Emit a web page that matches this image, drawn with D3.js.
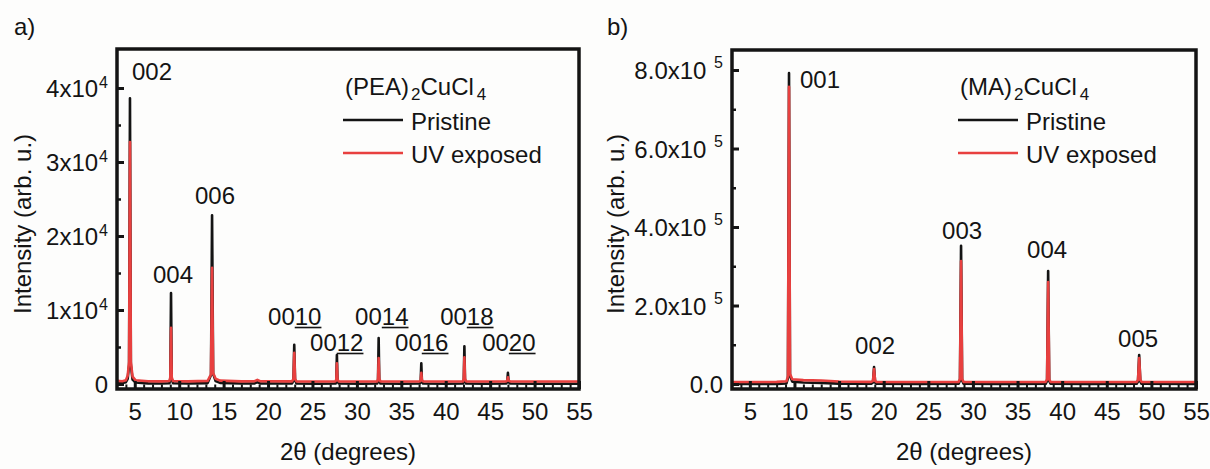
<!DOCTYPE html>
<html>
<head>
<meta charset="utf-8">
<script src="https://cdn.jsdelivr.net/npm/d3@7/dist/d3.min.js"></script>
<style>
  html, body { margin: 0; padding: 0; background: #fdfdfc; }
  svg { display: block; }
  text { font-family: "Liberation Sans", Arial, sans-serif; fill: #141414; }
</style>
</head>
<body>
<svg id="chart" width="1210" height="469"></svg>
<script>
// ---------- data: (PEA)2CuCl4 ----------
// [2θ (deg), intensity (counts)]
const pristinePEA = [
  [3.0, 150], [3.6, 120], [4.0, 250], [4.2, 700], [4.36, 2600], [4.46, 38600], [4.56, 2600], [4.75, 600], [5.1, 200],
  [6.5, 80], [8.0, 60], [8.9, 100], [9.0, 700], [9.08, 12300], [9.16, 700], [9.3, 100],
  [11.0, 60], [13.2, 120], [13.58, 1200], [13.7, 22800], [13.82, 1400], [14.1, 400], [14.6, 150],
  [17.0, 60], [18.5, 80], [18.8, 250], [19.1, 80], [22.7, 60], [22.86, 500], [22.95, 5300], [23.04, 500], [23.2, 60],
  [25.5, 40], [27.6, 60], [27.68, 400], [27.75, 3900], [27.82, 400], [27.95, 60],
  [30.5, 40], [32.3, 60], [32.38, 500], [32.45, 6200], [32.52, 500], [32.65, 60],
  [35.0, 40], [37.1, 60], [37.18, 300], [37.25, 2800], [37.32, 300], [37.45, 60],
  [40.0, 40], [41.95, 60], [42.03, 500], [42.1, 5100], [42.17, 500], [42.3, 60],
  [44.5, 40], [46.8, 60], [46.92, 250], [47.0, 1500], [47.08, 250], [47.25, 60],
  [50.0, 40], [55.0, 40]
];
const uvPEA = [
  [3.0, 420], [3.6, 380], [4.0, 500], [4.2, 1100], [4.36, 3000], [4.46, 32700], [4.56, 3000], [4.75, 1000], [5.1, 500],
  [6.5, 380], [8.0, 360], [8.9, 400], [9.0, 900], [9.08, 7600], [9.16, 900], [9.3, 400],
  [11.0, 360], [13.2, 420], [13.58, 1300], [13.7, 15700], [13.82, 1500], [14.1, 700], [14.6, 450],
  [17.0, 360], [18.5, 380], [18.8, 560], [19.1, 380], [22.7, 360], [22.86, 700], [22.95, 4200], [23.04, 700], [23.2, 360],
  [25.5, 340], [27.6, 360], [27.68, 600], [27.75, 2800], [27.82, 600], [27.95, 360],
  [30.5, 340], [32.3, 360], [32.38, 700], [32.45, 3500], [32.52, 700], [32.65, 360],
  [35.0, 340], [37.1, 360], [37.18, 500], [37.25, 1500], [37.32, 500], [37.45, 360],
  [40.0, 340], [41.95, 360], [42.03, 700], [42.1, 3600], [42.17, 700], [42.3, 360],
  [44.5, 340], [46.8, 360], [46.92, 450], [47.0, 900], [47.08, 450], [47.25, 360],
  [50.0, 340], [55.0, 340]
];
const peakLabelsPEA = ["002", "004", "006", "0010", "0012", "0014", "0016", "0018", "0020"];
// label anchor in data units: [2θ, intensity]
const peakLabelAnchorPEA = [
  [4.69, 41080], [7.05, 13650], [11.78, 24320], [20.0, 7970], [24.73, 4460],
  [29.8, 7970], [34.3, 4460], [39.37, 7970], [44.1, 4460]
];

// ---------- data: (MA)2CuCl4 ----------
const pristineMA = [
  [3.0, 0], [5.0, 0], [8.0, 300], [9.1, 1500], [9.27, 15000], [9.39, 792000], [9.5, 22000], [9.75, 6000],
  [11.0, 4000], [13.0, 3000], [15.0, 1000], [18.6, 500], [18.8, 4000], [18.92, 43000], [19.04, 4000], [19.2, 500],
  [24.0, 0], [28.4, 500], [28.55, 9000], [28.67, 352000], [28.79, 9000], [28.95, 500],
  [33.0, 0], [38.15, 500], [38.31, 8000], [38.43, 288000], [38.55, 8000], [38.7, 500],
  [43.0, 0], [48.35, 500], [48.5, 6000], [48.63, 74000], [48.76, 6000], [48.9, 500], [55.0, 0]
];
const uvMA = [
  [3.0, 5000], [5.0, 5000], [8.0, 5500], [9.1, 7000], [9.27, 20000], [9.39, 757000], [9.5, 26000], [9.75, 12000],
  [11.0, 10000], [13.0, 9000], [15.0, 6500], [18.6, 5500], [18.8, 8000], [18.92, 38000], [19.04, 8000], [19.2, 5500],
  [24.0, 5000], [28.4, 5500], [28.55, 13000], [28.67, 313000], [28.79, 13000], [28.95, 5500],
  [33.0, 5000], [38.15, 5500], [38.31, 12000], [38.43, 260000], [38.55, 12000], [38.7, 5500],
  [43.0, 5000], [48.35, 5500], [48.5, 10000], [48.63, 66000], [48.76, 10000], [48.9, 5500], [55.0, 5000]
];
const peakLabelsMA = ["001", "002", "003", "004", "005"];
const peakLabelAnchorMA = [
  [10.62, 754000], [16.79, 76400], [26.54, 369400], [36.07, 321000], [46.27, 94300]
];

// ---------- axes ----------
const xTicks = [5, 10, 15, 20, 25, 30, 35, 40, 45, 50, 55];
const xMinorTicks = d3.range(4, 55, 1).filter(v => v % 5 !== 0);
const yTicksPEA = [0, 10000, 20000, 30000, 40000];
const yTickLabelsPEA = ["0", "1x10^4", "2x10^4", "3x10^4", "4x10^4"];
const yMinorPEA = [5000, 15000, 25000, 35000];
const yTicksMA = [0, 200000, 400000, 600000, 800000];
const yTickLabelsMA = ["0.0", "2.0x10 ^5", "4.0x10 ^5", "6.0x10 ^5", "8.0x10 ^5"];
const yMinorMA = [100000, 300000, 500000, 700000];

const seriesNames = ["Pristine", "UV exposed"];
const colors = ["#141414", "#e8403f"];

const svg = d3.select("#chart");

function panel(opt) {
  const x = d3.scaleLinear().domain([3, 55]).range([opt.left, opt.right]);
  const y = d3.scaleLinear().domain(opt.yDomain).range([opt.bottom, opt.top]);
  const g = svg.append("g");

  const clipId = "clip-" + opt.id;
  svg.append("clipPath").attr("id", clipId)
    .append("rect").attr("x", opt.left).attr("y", opt.top)
    .attr("width", opt.right - opt.left).attr("height", opt.bottom - opt.top);

  const line = d3.line().x(d => x(d[0])).y(d => y(d[1]));
  [opt.pristine, opt.uv].forEach((s, i) => {
    g.append("path").datum(s)
      .attr("clip-path", `url(#${clipId})`)
      .attr("d", line)
      .attr("fill", "none")
      .attr("stroke", colors[i])
      .attr("stroke-width", 2.6)
      .attr("stroke-linejoin", "round")
      .attr("stroke-linecap", "round");
  });

  // x axis (ticks inside)
  const xa = g.append("g").attr("transform", `translate(0,${opt.bottom})`)
    .call(d3.axisBottom(x).tickValues(xTicks).tickSize(-8).tickPadding(14).tickFormat(d3.format("d")));
  xa.select(".domain").remove();
  xa.selectAll("line").attr("stroke", "#141414").attr("stroke-width", 3);
  xa.selectAll("text").attr("font-size", 24).attr("fill", "#141414")
    .attr("font-family", "Liberation Sans, Arial, sans-serif");
  const xm = g.append("g").attr("transform", `translate(0,${opt.bottom})`)
    .call(d3.axisBottom(x).tickValues(xMinorTicks).tickSize(-4.5).tickFormat(""));
  xm.select(".domain").remove();
  xm.selectAll("line").attr("stroke", "#141414").attr("stroke-width", 2);

  // y axis (ticks inside)
  const ya = g.append("g").attr("transform", `translate(${opt.left},0)`)
    .call(d3.axisLeft(y).tickValues(opt.yTicks).tickSize(-7).tickPadding(9).tickFormat(""));
  ya.select(".domain").remove();
  ya.selectAll("line").attr("stroke", "#141414").attr("stroke-width", 3);
  ya.selectAll(".tick").each(function (d, i) {
    const parts = opt.yTickLabels[i].split("^");
    const t = d3.select(this).append("text")
      .attr("x", -9).attr("dy", "0.36em")
      .attr("text-anchor", "end")
      .attr("font-size", 24)
      .attr("fill", "#141414")
      .attr("font-family", "Liberation Sans, Arial, sans-serif");
    t.append("tspan").text(parts[0]);
    if (parts[1]) {
      t.append("tspan").attr("font-size", 16).attr("dy", -opt.supShift).attr("dx", 1).text(parts[1]);
    }
  });
  const ym = g.append("g").attr("transform", `translate(${opt.left},0)`)
    .call(d3.axisLeft(y).tickValues(opt.yMinor).tickSize(-4).tickFormat(""));
  ym.select(".domain").remove();
  ym.selectAll("line").attr("stroke", "#141414").attr("stroke-width", 2.5);

  // frame
  g.append("rect")
    .attr("x", opt.left).attr("y", opt.top)
    .attr("width", opt.right - opt.left).attr("height", opt.bottom - opt.top)
    .attr("fill", "none").attr("stroke", "#141414").attr("stroke-width", 3.5);

  // axis titles
  g.append("text")
    .attr("x", (opt.left + opt.right) / 2).attr("y", 460)
    .attr("text-anchor", "middle").attr("font-size", 24)
    .text("2θ (degrees)");
  g.append("text")
    .attr("transform", `translate(${opt.yTitleX},224) rotate(-90)`)
    .attr("text-anchor", "middle").attr("font-size", 24)
    .text("Intensity (arb. u.)");

  // panel letter
  g.append("text").attr("x", opt.letterX).attr("y", 35).attr("font-size", 24).text(opt.letter);

  // peak labels (two-digit indices are underlined)
  opt.peakLabels.forEach((lab, i) => {
    const a = opt.peakAnchors[i];
    const tx = x(a[0]), ty = y(a[1]);
    const t = g.append("text").attr("x", tx).attr("y", ty).attr("font-size", 24).text(lab);
    if (lab.length > 3) {
      const node = t.node();
      const x1 = node.getStartPositionOfChar(2).x;
      const x2 = node.getEndPositionOfChar(lab.length - 1).x;
      g.append("line")
        .attr("x1", x1).attr("x2", x2)
        .attr("y1", ty + 2.5).attr("y2", ty + 2.5)
        .attr("stroke", "#141414").attr("stroke-width", 1.6);
    }
  });

  // legend
  const lt = g.append("text").attr("x", opt.legendX + 2).attr("y", 95).attr("font-size", 24);
  lt.append("tspan").text(opt.compound[0]);
  lt.append("tspan").attr("font-size", 17).attr("dy", 5).attr("dx", 2).text("2");
  lt.append("tspan").attr("font-size", 24).attr("dy", -5).text("CuCl");
  lt.append("tspan").attr("font-size", 17).attr("dy", 5).attr("dx", 3).text("4");
  seriesNames.forEach((name, i) => {
    const ly = 120 + i * 33;
    g.append("line")
      .attr("x1", opt.legendX).attr("x2", opt.legendX + 60)
      .attr("y1", ly).attr("y2", ly)
      .attr("stroke", colors[i]).attr("stroke-width", 2.6);
    g.append("text").attr("x", opt.legendX + 68).attr("y", ly + 9.5)
      .attr("font-size", 24).text(name);
  });
}

panel({
  id: "a", letter: "a)", letterX: 14,
  left: 117, right: 579, top: 49, bottom: 389,
  yDomain: [-676, 45270],
  yTicks: yTicksPEA, yTickLabels: yTickLabelsPEA, yMinor: yMinorPEA, supShift: 9,
  pristine: pristinePEA, uv: uvPEA,
  peakLabels: peakLabelsPEA, peakAnchors: peakLabelAnchorPEA,
  yTitleX: 31, legendX: 343, compound: ["(PEA)"]
});

panel({
  id: "b", letter: "b)", letterX: 607,
  left: 732, right: 1196, top: 50, bottom: 389,
  yDomain: [-12700, 851000],
  yTicks: yTicksMA, yTickLabels: yTickLabelsMA, yMinor: yMinorMA, supShift: 11,
  pristine: pristineMA, uv: uvMA,
  peakLabels: peakLabelsMA, peakAnchors: peakLabelAnchorMA,
  yTitleX: 624, legendX: 958, compound: ["(MA)"]
});
</script>
</body>
</html>
